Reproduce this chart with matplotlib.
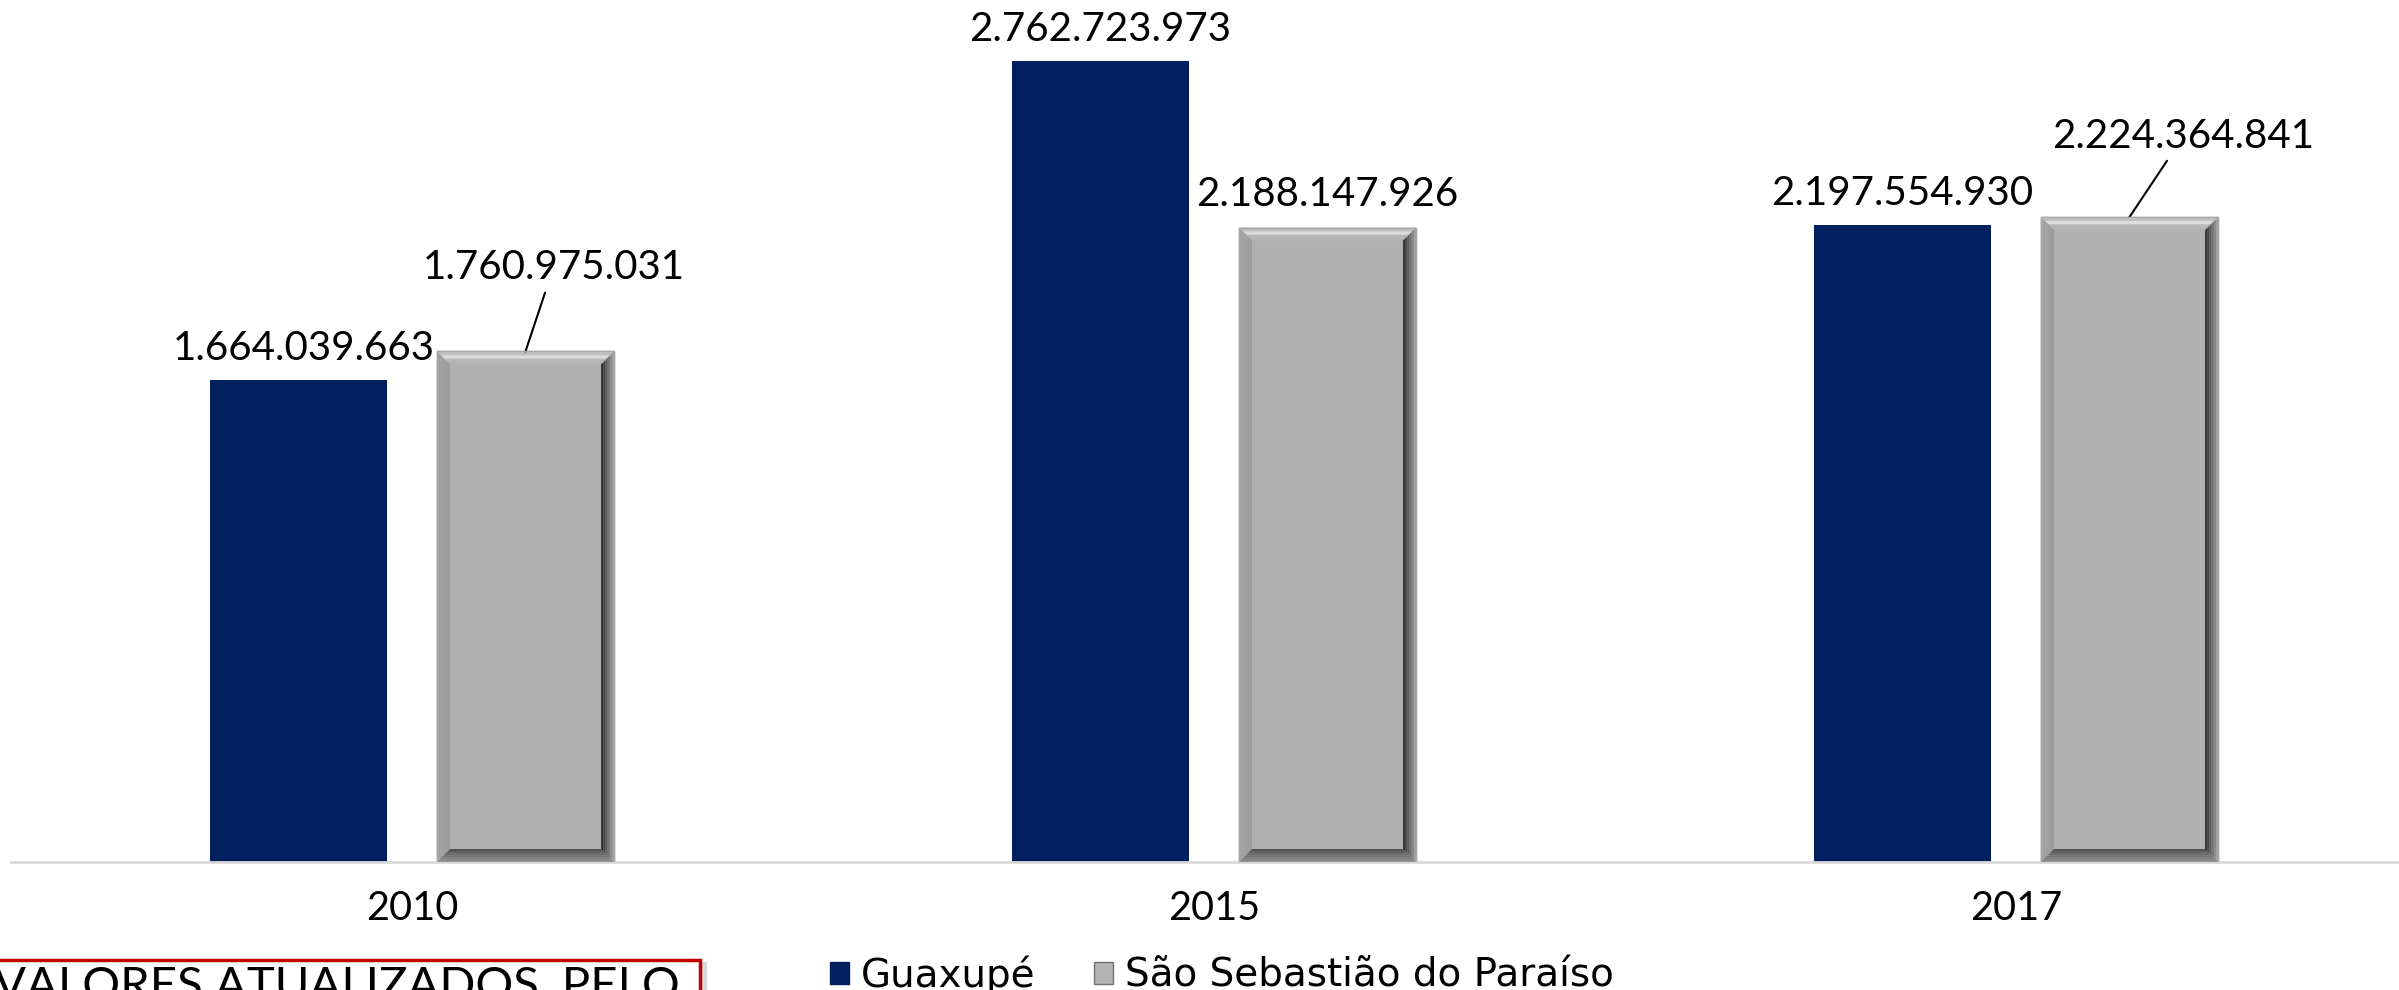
import matplotlib.pyplot as plt
from matplotlib.patches import Polygon, Rectangle
import numpy as np

# data
years = ['2010', '2015', '2017']
guaxupe = [1664039663, 2762723973, 2197554930]
paraiso = [1760975031, 2188147926, 2224364841]
series_names = ['Guaxupé', 'São Sebastião do Paraíso']

NAVY = '#002060'
GRAY = '#b0b0b0'
NUM_FONT = ['Lato', 'DejaVu Sans']


def fmt(v):
    return f'{v:,}'.replace(',', '.')


fig = plt.figure(figsize=(23.99, 9.9), dpi=100)
W, H = 2399, 990
ax = fig.add_axes([11 / W, 128 / H, 2406 / W, 862 / H])

x = np.arange(len(years))
bw = 0.221
off = 0.1415
ax.set_xlim(-0.5, 2.5)
ax.set_ylim(0, 2.973e9)

ax.bar(x - off, guaxupe, bw, color=NAVY, zorder=2)
gbars = ax.bar(x + off, paraiso, bw, color=GRAY, edgecolor='#a0a0a0', lw=1, zorder=2)

# bevel on the gray bars (width in pixels converted to data units)
bev = 13
px_x = ax.bbox.width / 3.0
px_y = ax.bbox.height / 2.973e9
bx, by = bev / px_x, bev / px_y
n = 6


def ramp(c0, c1, k):
    c0 = np.array(plt.matplotlib.colors.to_rgb(c0))
    c1 = np.array(plt.matplotlib.colors.to_rgb(c1))
    t = k / (n - 1)
    return tuple(c0 + (c1 - c0) * t)


for b in gbars:
    x0, x1 = b.get_x(), b.get_x() + b.get_width()
    y0, y1 = 0, b.get_height()
    for k in range(n):
        a0x, a1x = bx * k / n, bx * (k + 1) / n
        a0y, a1y = by * k / n, by * (k + 1) / n
        top = [(x0 + a0x, y1 - a0y), (x1 - a0x, y1 - a0y), (x1 - a1x, y1 - a1y), (x0 + a1x, y1 - a1y)]
        bot = [(x0 + a0x, y0 + a0y), (x1 - a0x, y0 + a0y), (x1 - a1x, y0 + a1y), (x0 + a1x, y0 + a1y)]
        left = [(x0 + a0x, y0 + a0y), (x0 + a0x, y1 - a0y), (x0 + a1x, y1 - a1y), (x0 + a1x, y0 + a1y)]
        right = [(x1 - a0x, y0 + a0y), (x1 - a0x, y1 - a0y), (x1 - a1x, y1 - a1y), (x1 - a1x, y0 + a1y)]
        ax.add_patch(Polygon(top, closed=True, color=ramp('#c4c4c4', '#b4b4b4', k), lw=0, zorder=3))
        ax.add_patch(Polygon(bot, closed=True, color=ramp('#8c8c8c', '#505050', k), lw=0, zorder=3))
        ax.add_patch(Polygon(left, closed=True, color=ramp('#a4a4a4', '#9a9a9a', k), lw=0, zorder=3))
        ax.add_patch(Polygon(right, closed=True, color=ramp('#a0a0a0', '#303030', k), lw=0, zorder=3))
    # light highlight band on top bevel
    ax.add_patch(Polygon([(x0 + bx * 0.35, y1 - by * 0.3), (x1 - bx * 0.35, y1 - by * 0.3),
                          (x1 - bx * 0.6, y1 - by * 0.55), (x0 + bx * 0.6, y1 - by * 0.55)],
                         closed=True, color='#dcdcdc', lw=0, zorder=3))
    ax.add_patch(Rectangle((x0, y0), x1 - x0, y1, fill=False, ec='#a8a8a8', lw=1, zorder=4))

# value labels (offsets in pixels)
g_off = [(5, 31), (0, 31), (0, 31)]
p_off = [(28, 84), (0, 33), (54, 81)]
p_lead = [True, False, True]
for i in range(len(years)):
    ax.annotate(fmt(guaxupe[i]), (x[i] - off, guaxupe[i]), xytext=g_off[i],
                textcoords='offset pixels', ha='center', va='center',
                fontsize=29, family=NUM_FONT, color='black')
    ap = dict(arrowstyle='-', color='black', lw=1.5, shrinkA=3, shrinkB=0) if p_lead[i] else None
    ax.annotate(fmt(paraiso[i]), (x[i] + off, paraiso[i]), xytext=p_off[i],
                textcoords='offset pixels', ha='center', va='center',
                fontsize=29, family=NUM_FONT, color='black', arrowprops=ap)

ax.set_xticks(x, years, fontsize=28.5, family=NUM_FONT)
ax.tick_params(axis='x', length=0, pad=20)
ax.set_yticks([])
for s in ['top', 'right', 'left']:
    ax.spines[s].set_visible(False)
ax.spines['bottom'].set_color('#d9d9d9')
ax.spines['bottom'].set_linewidth(2)

# legend
h1 = Rectangle((0, 0), 1, 1, color=NAVY)
h2 = Rectangle((0, 0), 1, 1, fc='#b4b4b4', ec='#707070', lw=1)
fig.legend([h1, h2], series_names, loc='center', bbox_to_anchor=(1222 / W, 1 - 975 / H),
           ncol=2, frameon=False, handlelength=0.5, handleheight=0.5,
           handletextpad=0.3, columnspacing=1.5, prop={'family': 'DejaVu Sans', 'size': 28})

# note box bottom-left
fig.patches.append(Rectangle((-5 / W, -20 / H), 712 / W, 48 / H, transform=fig.transFigure,
                             fc='#bfbfbf', ec='none', alpha=0.6, zorder=1))
fig.patches.append(Rectangle((-10 / W, -20 / H), 710 / W, 50 / H, transform=fig.transFigure,
                             fc='white', ec='#c00000', lw=2.5, zorder=2))
fig.text(-6 / W, 1 - 966 / H, 'VALORES ATUALIZADOS, PELO', fontsize=34, family=NUM_FONT,
         va='top', ha='left', zorder=3)

fig.savefig('out.png', dpi=100)
